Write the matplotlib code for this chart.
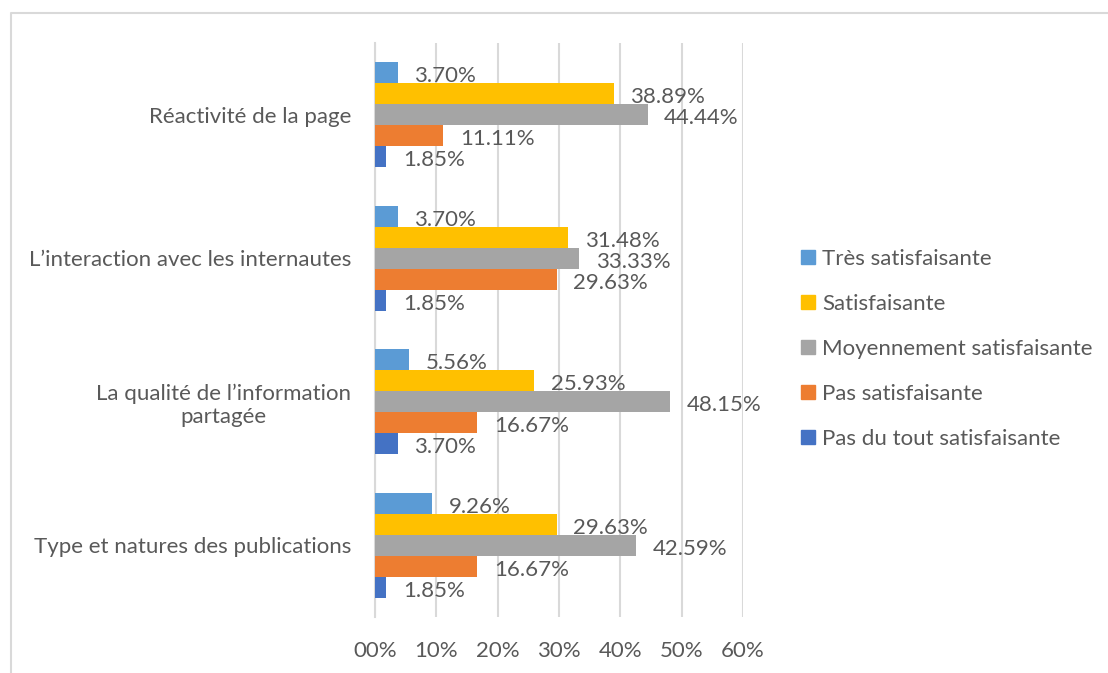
import matplotlib.pyplot as plt
from matplotlib.ticker import FuncFormatter, MultipleLocator
from matplotlib.lines import Line2D

plt.rcParams['font.family'] = ['Lato', 'DejaVu Sans']

# Data (percent)
categories = ['Réactivité de la page',
              'L’interaction avec les internautes',
              'La qualité de l’information\npartagée',
              'Type et natures des publications']
series = ['Très satisfaisante', 'Satisfaisante', 'Moyennement satisfaisante',
          'Pas satisfaisante', 'Pas du tout satisfaisante']
tres_satisf = [3.70, 3.70, 5.56, 9.26]
satisf = [38.89, 31.48, 25.93, 29.63]
moyen_satisf = [44.44, 33.33, 48.15, 42.59]
pas_satisf = [11.11, 29.63, 16.67, 16.67]
pas_du_tout = [1.85, 1.85, 3.70, 1.85]
values = [tres_satisf, satisf, moyen_satisf, pas_satisf, pas_du_tout]
colors = ['#5B9BD5', '#FFC000', '#A5A5A5', '#ED7D31', '#4472C4']

text_color = '#595959'
grid_color = '#D9D9D9'
fs = 16

fig = plt.figure(figsize=(11.08, 6.73), dpi=100)
ax = fig.add_axes([375 / 1108, 1 - 617 / 673, (743 - 375) / 1108, (617 - 43) / 673])

h = 0.146
for i, (name, vals, c) in enumerate(zip(series, values, colors)):
    ys = [k + (i - 2) * h for k in range(len(categories))]
    bars = ax.barh(ys, vals, height=h, color=c, label=name, zorder=3)
    for b, v in zip(bars, vals):
        ax.annotate(f'{v:.2f}%', (b.get_width(), b.get_y() + b.get_height() / 2),
                    xytext=(12, -2.5), textcoords='offset points', va='center',
                    ha='left', fontsize=fs, color=text_color, zorder=4)

ax.set_xlim(0, 60)
ax.set_ylim(len(categories) - 0.5, -0.5)
ax.xaxis.set_major_locator(MultipleLocator(10))
ax.xaxis.set_major_formatter(FuncFormatter(lambda v, p: f'{v:02.0f}%'))
ax.set_yticks(range(len(categories)))
ax.set_yticklabels(categories, multialignment='center')
ax.grid(axis='x', color=grid_color, linewidth=1.5, zorder=0)
for s in ['top', 'right', 'bottom']:
    ax.spines[s].set_visible(False)
ax.spines['left'].set_color(grid_color)
ax.spines['left'].set_linewidth(1.5)
ax.tick_params(axis='both', length=0, labelsize=fs, colors=text_color)
ax.tick_params(axis='x', pad=17)
ax.tick_params(axis='y', pad=17)

handles = [Line2D([0], [0], marker='s', linestyle='none', markersize=10.5,
                  markerfacecolor=c, markeredgecolor=c) for c in colors]
leg = fig.legend(handles, series, loc='upper left',
                 bbox_to_anchor=(799 / 1108, 1 - 249 / 673), frameon=False,
                 fontsize=fs, labelcolor=text_color, handletextpad=0.25,
                 handlelength=0.8, labelspacing=1.12, borderaxespad=0,
                 borderpad=0)

# chart border (cropped at right and bottom)
fig.add_artist(Line2D([11 / 1108, 11 / 1108, 1.0], [0.0, 1 - 13 / 673, 1 - 13 / 673],
                      transform=fig.transFigure, color=grid_color, linewidth=1.5))

fig.savefig('out.png', dpi=100, facecolor='white')
